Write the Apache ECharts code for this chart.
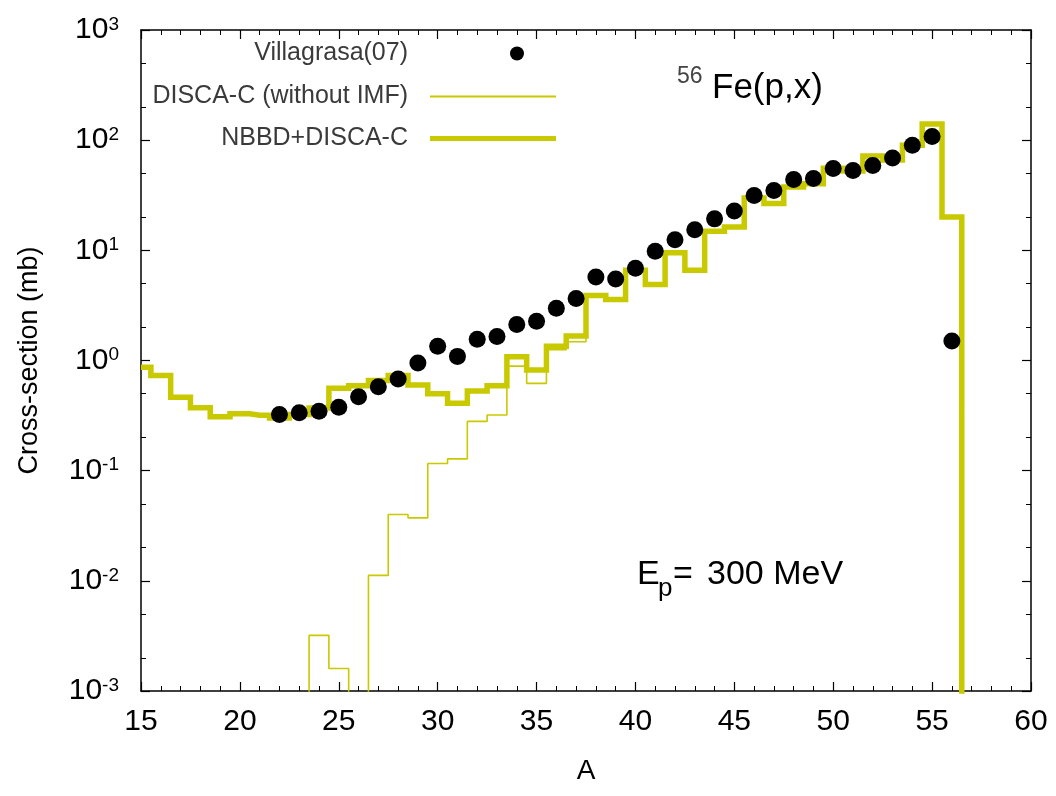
<!DOCTYPE html>
<html>
<head>
<meta charset="utf-8">
<script src="https://cdn.jsdelivr.net/npm/echarts@6/dist/echarts.min.js"></script>
<style>html,body{margin:0;padding:0;background:#fff}#chart{width:1056px;height:796px}</style>
</head>
<body>
<div id="chart"></div>
<script>
// ---- data ----
// NBBD+DISCA-C histogram, mass numbers 15..57 (57 = drop below axis)
const nbbdA = [15,16,17,18,19,20,21,22,23,24,25,26,27,28,29,30,31,32,33,34,35,36,37,38,39,40,41,42,43,44,45,46,47,48,49,50,51,52,53,54,55,56,57];
const nbbdValues = [0.87,0.73,0.464,0.372,0.309,0.328,0.319,0.30,0.324,0.37,0.56,0.59,0.66,0.73,0.60,0.50,0.41,0.53,0.59,1.08,0.82,1.35,1.67,3.89,3.58,6.6,4.9,9.5,6.6,14.9,16.3,29.9,26.6,37.6,40.3,55.7,52.4,72,66,89.9,140,20.1,1e-6];
// DISCA-C (without IMF) histogram, mass numbers 23..57 (1e-6 = below axis)
const discaA = [23,24,25,26,27,28,29,30,31,32,33,34,35,36,37,38,39,40,41,42,43,44,45,46,47,48,49,50,51,52,53,54,55,56,57];
const discaValues = [1e-6,0.0032,0.0016,1e-6,0.0112,0.040,0.0373,0.116,0.128,0.28,0.32,0.89,0.62,1.25,1.48,3.89,3.58,6.6,4.9,9.5,6.6,14.9,16.3,29.9,26.6,37.6,40.3,55.7,52.4,72,66,89.9,140,20.1,1e-6];
// Villagrasa(07) measured points, mass numbers 22..56
const expA = [22,23,24,25,26,27,28,29,30,31,32,33,34,35,36,37,38,39,40,41,42,43,44,45,46,47,48,49,50,51,52,53,54,55,56];
const expValues = [0.324,0.335,0.347,0.377,0.468,0.577,0.68,0.95,1.35,1.09,1.56,1.65,2.12,2.27,2.98,3.65,5.74,5.5,6.88,9.8,12.5,15.4,19.3,22.7,31.4,34.9,43.9,44.8,55.3,53.0,59.0,69.0,89.9,108,1.5];
// axis ticks
const yMinorTicks = [0.002,0.005,0.02,0.05,0.2,0.5,2,5,20,50,200,500];
const seriesNames = ['Villagrasa(07)','DISCA-C (without IMF)','NBBD+DISCA-C'];

const FONT = '"Liberation Sans", Arial, Helvetica, sans-serif';
const YEL = '#c9c900';
const zip = (a, b) => a.map((x, i) => [x, b[i]]);

const chart = echarts.init(document.getElementById('chart'), null, {renderer: 'canvas'});

const baseX = {
  type: 'value', min: 15, max: 60, interval: 5,
  axisLine: {show: true, lineStyle: {color: '#000', width: 1.5}},
  axisTick: {show: true, inside: true, length: 9, lineStyle: {color: '#000', width: 1.2}},
  minorTick: {show: true, splitNumber: 5, length: 5, lineStyle: {color: '#000', width: 1}},
  splitLine: {show: false}, minorSplitLine: {show: false}
};
const baseY = {
  type: 'log', logBase: 10, min: 0.001, max: 1000,
  axisLine: {show: true, lineStyle: {color: '#000', width: 1.5}},
  axisTick: {show: true, inside: true, length: 9, lineStyle: {color: '#000', width: 1.2}},
  splitLine: {show: false}
};
const minorY = {
  type: 'log', logBase: 10, min: 0.001, max: 1000,
  axisLine: {show: false},
  axisLabel: {show: false},
  axisTick: {show: true, inside: true, length: 5, customValues: yMinorTicks, lineStyle: {color: '#000', width: 1}},
  splitLine: {show: false}
};

const legendCommon = {orient: 'vertical', align: 'right', padding: 0, selectedMode: false};
const legendText = sp => ({fontSize: 25, color: '#3a3a3a', fontFamily: FONT,
  rich: {t: {fontSize: 25, color: '#3a3a3a', fontFamily: FONT, lineHeight: 28}, sp: {width: sp}}});

chart.setOption({
  animation: false,
  backgroundColor: '#fff',
  textStyle: {fontFamily: FONT},
  grid: {left: 141, right: 25, top: 30, bottom: 105, containLabel: false, outerBoundsMode: 'none'},
  xAxis: [
    Object.assign({}, baseX, {
      position: 'bottom',
      axisLabel: {fontSize: 30, color: '#000', margin: 16, fontFamily: FONT},
      name: 'A', nameLocation: 'middle', nameGap: 66,
      nameTextStyle: {fontSize: 28, color: '#000', fontFamily: FONT}
    }),
    Object.assign({}, baseX, {position: 'top', axisLabel: {show: false}})
  ],
  yAxis: [
    Object.assign({}, baseY, {
      position: 'left',
      axisLabel: {
        margin: 22,
        formatter: v => '{b|10}{s|' + Math.round(Math.log10(v)) + '}',
        rich: {
          b: {fontSize: 30, color: '#000', fontFamily: FONT, lineHeight: 30, padding: [14, 0, 14, 0]},
          s: {fontSize: 19, color: '#000', fontFamily: FONT, lineHeight: 19, padding: [0, 0, 34, 0], verticalAlign: 'top'}
        }
      },
      name: 'Cross-section (mb)', nameLocation: 'middle', nameGap: 98,
      nameTextStyle: {fontSize: 27, color: '#000', fontFamily: FONT}
    }),
    Object.assign({}, baseY, {position: 'right', axisLabel: {show: false}}),
    Object.assign({}, minorY, {position: 'left'}),
    Object.assign({}, minorY, {position: 'right'})
  ],
  legend: [
    Object.assign({}, legendCommon, {
      data: [{name: seriesNames[0], icon: 'circle'}],
      right: 532, top: 41, itemWidth: 14, itemHeight: 14,
      formatter: n => '{t|' + n + '}{sp| }',
      textStyle: legendText(97)
    }),
    Object.assign({}, legendCommon, {
      data: [{name: seriesNames[1], icon: 'rect'}],
      right: 500, top: 84, itemWidth: 126, itemHeight: 2,
      formatter: n => '{t|' + n + '}{sp| }',
      textStyle: legendText(17)
    }),
    Object.assign({}, legendCommon, {
      data: [{name: seriesNames[2], icon: 'rect'}],
      right: 500, top: 126, itemWidth: 126, itemHeight: 5,
      formatter: n => '{t|' + n + '}{sp| }',
      textStyle: legendText(17)
    })
  ],
  graphic: [
    {type: 'text', x: 677, y: 77, silent: true,
      style: {text: '56', fontSize: 23, fontFamily: FONT, fill: '#444', verticalAlign: 'middle', align: 'left'}},
    {type: 'text', x: 712, y: 88, silent: true,
      style: {text: 'Fe(p,x)', fontSize: 35, fontFamily: FONT, fill: '#000', verticalAlign: 'middle', align: 'left'}},
    {type: 'text', x: 637, y: 575, silent: true,
      style: {text: 'E', fontSize: 34, fontFamily: FONT, fill: '#000', verticalAlign: 'middle', align: 'left'}},
    {type: 'text', x: 658, y: 589, silent: true,
      style: {text: 'p', fontSize: 26, fontFamily: FONT, fill: '#000', verticalAlign: 'middle', align: 'left'}},
    {type: 'text', x: 673, y: 575, silent: true,
      style: {text: '=', fontSize: 34, fontFamily: FONT, fill: '#000', verticalAlign: 'middle', align: 'left'}},
    {type: 'text', x: 707, y: 575, silent: true,
      style: {text: '300 MeV', fontSize: 34, fontFamily: FONT, fill: '#000', verticalAlign: 'middle', align: 'left'}}
  ],
  series: [
    {name: seriesNames[1], type: 'line', step: 'middle', symbol: 'none', clip: true,
      xAxisIndex: 0, yAxisIndex: 0, z: 2, silent: true,
      data: zip(discaA, discaValues),
      lineStyle: {color: YEL, width: 1.6}, itemStyle: {color: YEL}},
    {name: seriesNames[2], type: 'line', step: 'middle', symbol: 'none', clip: true,
      xAxisIndex: 0, yAxisIndex: 0, z: 3, silent: true,
      data: zip(nbbdA, nbbdValues),
      lineStyle: {color: YEL, width: 5.5, join: 'miter'}, itemStyle: {color: YEL}},
    {name: seriesNames[0], type: 'scatter', symbol: 'circle', symbolSize: 17,
      xAxisIndex: 0, yAxisIndex: 0, z: 5, silent: true,
      data: zip(expA, expValues),
      itemStyle: {color: '#000', opacity: 1}}
  ]
});
</script>
</body>
</html>
